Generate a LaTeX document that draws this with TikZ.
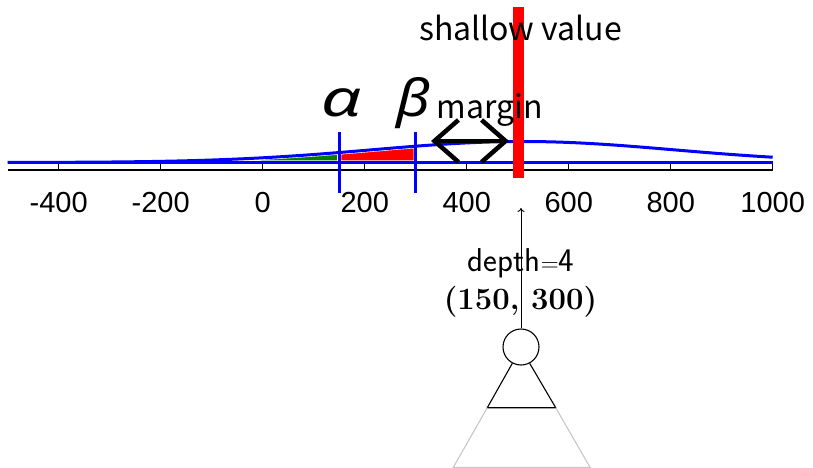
\documentclass[tikz,border=0pt]{standalone}
\usepackage{fontspec}
\usetikzlibrary{arrows.meta}
\newfontfamily\tickfont{Liberation Sans}
\newfontfamily\jpfont{Noto Sans CJK JP}
\newfontfamily\grfont{Noto Sans}
\begin{document}
\begin{tikzpicture}[x=1pt,y=-1pt,
  lbl/.style={inner sep=0pt, anchor=base},
  ticklbl/.style={lbl, font=\tickfont\fontsize{29}{29}\selectfont},
  jp/.style={lbl, font=\jpfont\fontsize{32}{32}\selectfont},
  greek/.style={lbl, font=\grfont\itshape\fontsize{51}{51}\selectfont},
  bluel/.style={blue, line width=3pt},
  areafill/.style={draw=white, line width=4.2pt},
  mybarb/.tip={Straight Barb[length=24pt,width=42pt]}]
\useasboundingbox (0,0) rectangle (813,468);
\begin{scope}[x=0.51pt, xshift=262.7pt]
  % filled areas
  \fill[green!50!black, areafill] plot[domain=-500:150, samples=80] (\x, {162.5-21*exp(-0.5*((\x-510)/295)^2)}) -- (150,162.5) -- cycle;
  \fill[red, areafill] plot[domain=150:300, samples=30] (\x, {162.5-21*exp(-0.5*((\x-510)/295)^2)}) -- (300,162.5) -- (150,162.5) -- cycle;
  % axis
  \draw[line width=1.2pt] (-500,170) -- (1000,170);
  \foreach \v in {-400,-200,...,1000} {
    \draw[line width=1pt] (\v,170) -- (\v,164);
    \node[ticklbl] (t\v) at (\v,212) {\v};
  }
  % blue lines
  \draw[bluel] (-500,162.5) -- (1000,162.5);
  \draw[bluel] plot[domain=-500:1000, samples=150] (\x, {162.5-21*exp(-0.5*((\x-510)/295)^2)});
  \draw[bluel] (150,132) -- (150,193);
  \draw[bluel] (300,132) -- (300,193);
\end{scope}
% shallow value bar
\fill[red] (513.3,6.7) rectangle (524.3,177.7);
% margin arrow
\coordinate (mL) at (431,141);
\coordinate (mR) at (509,141);
\draw[line width=4.5pt, mybarb-mybarb] (mL) -- (mR);
% labels
\node[jp] (shallow) at (520.5,40.7) {shallow value};
\node[jp] (margin) at (489.5,118.3) {margin};
\node[greek, xscale=1.4] (alpha) at (342,116.7) {α};
\node[greek, xscale=1.15] (beta) at (413.7,116.7) {β};
% tree
\node[circle, draw, line width=1.1pt, minimum size=36pt, inner sep=0pt] (root) at (521,347) {};
\coordinate (tip) at (521,208);
\draw[line width=0.9pt, -{To[length=4pt,width=7pt]}] (root) -- (tip);
\node[lbl, font=\sffamily\fontsize{33}{33}\selectfont] (depth) at (521,271) {depth$=$4};
\node[lbl, font=\rmfamily\bfseries\fontsize{31}{31}\selectfont] (pair) at (520.5,309) {(150, 300)};
\coordinate (bl) at (487.3,407.7);
\coordinate (br) at (555.7,407.7);
\coordinate (gl) at (453.3,467.3);
\coordinate (gr) at (590,467.3);
\draw[line width=1.1pt] (root.242) -- (bl) -- (br) -- (root.298);
\draw[black!22, line width=1.1pt] (bl) -- (gl) -- (gr) -- (br);
\end{tikzpicture}
\end{document}
